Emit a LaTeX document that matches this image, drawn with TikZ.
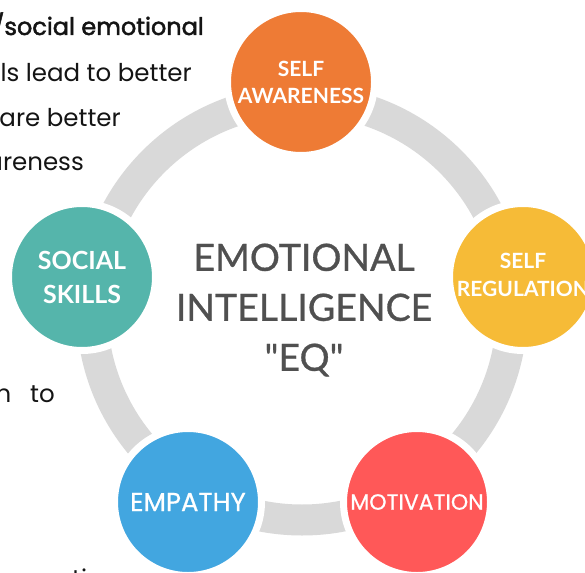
\documentclass[tikz,border=0pt]{standalone}
\usepackage{fontspec}
\setmainfont{Lato}
\newfontfamily\popfont{Poppins}
\newfontfamily\popbold{Poppins}[FakeBold=2]
\newfontfamily\popmed{Poppins}[FakeBold=0.7]
\newfontfamily\latomed{Lato}[FakeBold=0.8]
\definecolor{ringgray}{HTML}{D9D9D9}
\definecolor{cOrange}{HTML}{EE7B35}
\definecolor{cYellow}{HTML}{F6BB37}
\definecolor{cRed}{HTML}{FF5858}
\definecolor{cBlue}{HTML}{42A6E0}
\definecolor{cTeal}{HTML}{55B5AB}
\definecolor{centergray}{HTML}{505050}
\definecolor{lefttext}{HTML}{141414}
\tikzset{
  ringstyle/.style={draw=ringgray, line width=31pt},
  bub/.style={circle, minimum size=147pt, inner sep=0pt, draw=white, line width=7pt,
              text=white, align=center},
  lbl/.style={font=\fontsize{21}{27}\selectfont\bfseries},
  lefttxt/.style={inner sep=0pt, text=lefttext, font=\popfont\fontsize{24.5}{30}\selectfont},
  centertxt/.style={align=center, text=centergray, inner sep=0pt,
                    font=\latomed\fontsize{37.5}{50}\selectfont}
}
\begin{document}
\begin{tikzpicture}[x=1pt,y=-1pt]
\useasboundingbox (0,0) rectangle (585,572);
\clip (0,0) rectangle (585,572);
\fill[white] (0,0) rectangle (585,572);
% left text (cropped)
\node[lefttxt, anchor=base east, font=\popbold\fontsize{24}{30}\selectfont] (t1) at (204,35) {/social emotional};
\node[lefttxt, anchor=base east] (t2) at (192,82) {ls lead to better};
\node[lefttxt, anchor=base east] (t3) at (121,127) {are better};
\node[lefttxt, anchor=base east] (t4) at (84,170) {areness};
\node[lefttxt, anchor=base east] (t5) at (55,402) {n\hspace{19pt}to};
\node[lefttxt, anchor=base west] (t6) at (72,587) {ti};
% ring
\coordinate (rc) at (302,310);
\draw[ringstyle] (rc) circle[radius=210];
% bubbles
\node[bub, fill=cOrange, lbl] (sa) at (301,82) {SELF\\AWARENESS};
\node[bub, fill=cYellow, lbl] (sr) at (523,277) {\raisebox{6pt}{\begin{tabular}{@{}c@{}}SELF\\[1pt]REGULATION\end{tabular}}};
\node[bub, fill=cRed, font=\popmed\fontsize{22}{24}\selectfont] (mo) at (417,502) {MOTIVATION};
\node[bub, fill=cBlue, font=\popmed\fontsize{26}{28}\selectfont] (em) at (188,502) {EMPATHY};
\node[bub, fill=cTeal, font=\fontsize{25}{34}\selectfont\bfseries] (ss) at (82,277) {SOCIAL\\SKILLS};
% center text
\node[centertxt] (eq) at (304,310) {EMOTIONAL\\INTELLIGENCE\\\char34 EQ\char34};
\end{tikzpicture}
\end{document}
